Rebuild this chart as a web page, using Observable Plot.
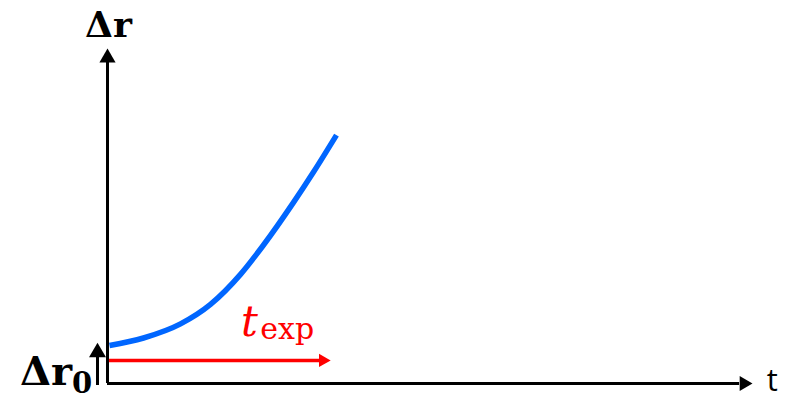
<!DOCTYPE html>
<html>
<head>
<meta charset="utf-8">
<script src="https://cdn.jsdelivr.net/npm/d3@7"></script>
<script src="https://cdn.jsdelivr.net/npm/@observablehq/plot@0.6"></script>
<style>
  html, body { margin: 0; padding: 0; background: #fff; }
</style>
</head>
<body>
<div id="chart"></div>
<script>
// Growth of the perturbation Δr over time t (arbitrary units)
const tCurve = [0.031, 0.558, 1.132, 1.597, 2.062, 2.419, 2.884, 3.194, 3.550];
const rCurve = [1.134, 1.358, 1.779, 2.361, 3.257, 4.134, 5.406, 6.313, 7.415];

// initial perturbation and the exponential-growth interval
const dr0 = 1.16;
const tExpStart = 0.03;
const tExpEnd = 3.46;
const tExpLevel = 0.69;

// axis extents
const tMax = 10;
const rMax = 10;

const curve = tCurve.map((t, i) => ({t, r: rCurve[i]}));

const BLUE = "#0066ff";
const RED = "#ff0000";
const serif = "'DejaVu Serif', 'Liberation Serif', serif";

// filled triangular arrow head; the dot sits at the tip, shifted back to its centroid
function head(x, y, dir, r, fill) {
  const back = 2 * Math.sqrt((Math.PI * r * r) / (3 * Math.sqrt(3)));
  return Plot.dot([{x, y}], {
    x: "x", y: "y", symbol: "triangle", r, fill, stroke: null,
    rotate: dir === "right" ? 90 : 0,
    dx: dir === "right" ? -back : 0,
    dy: dir === "up" ? back : 0
  });
}

const chart = Plot.plot({
  width: 788,
  height: 398,
  margin: 0,
  x: {domain: [0, tMax], range: [107, 752], axis: null},
  y: {domain: [0, rMax], range: [383, 48], axis: null},
  style: {background: "#fff", overflow: "visible"},
  marks: [
    // axes
    Plot.ruleY([0], {x1: 0, x2: tMax - 0.2, stroke: "#000", strokeWidth: 3}),
    Plot.ruleX([0], {y1: 0, y2: rMax - 0.4, stroke: "#000", strokeWidth: 3}),
    head(tMax, 0, "right", 5.5, "#000"),
    head(0, rMax, "up", 6, "#000"),

    // Δr0 marker arrow
    Plot.ruleX([-0.155], {y1: -0.06, y2: dr0 - 0.3, stroke: "#000", strokeWidth: 3}),
    head(-0.155, dr0 + 0.06, "up", 6.3, "#000"),

    // exponential-growth interval
    Plot.ruleY([tExpLevel], {x1: tExpStart, x2: tExpEnd - 0.15, stroke: RED, strokeWidth: 3.5}),
    head(tExpEnd, tExpLevel, "right", 5, RED),

    // Δr(t)
    Plot.line(curve, {x: "t", y: "r", curve: "monotone-x", stroke: BLUE, strokeWidth: 5.5, strokeLinecap: "butt"}),

    // labels
    Plot.text(["Δr"], {x: 0.015, y: 10.33, text: d => d, textAnchor: "middle", lineAnchor: "bottom",
      fontFamily: serif, fontWeight: "bold", fontSize: 36, fill: "#000"}),
    Plot.text(["Δr"], {x: -0.55, y: -0.03, text: d => d, textAnchor: "end", lineAnchor: "bottom",
      fontFamily: serif, fontWeight: "bold", fontSize: 40, fill: "#000"}),
    Plot.text(["0"], {x: -0.55, y: -0.27, text: d => d, textAnchor: "start", lineAnchor: "bottom",
      fontFamily: serif, fontWeight: "bold", fontSize: 29, fill: "#000"}),
    Plot.text(["t"], {x: 2.07, y: 1.43, text: d => d, textAnchor: "start", lineAnchor: "bottom",
      fontFamily: serif, fontStyle: "italic", fontSize: 42, fill: RED}),
    Plot.text(["exp"], {x: 2.37, y: 1.34, text: d => d, textAnchor: "start", lineAnchor: "bottom",
      fontFamily: serif, fontSize: 30, fill: RED}),
    Plot.text(["t"], {x: 10.22, y: -0.21, text: d => d, textAnchor: "start", lineAnchor: "bottom",
      fontFamily: "'Open Sans', 'Liberation Sans', sans-serif", fontSize: 31, fill: "#000"})
  ]
});

document.getElementById("chart").appendChild(chart);
</script>
</body>
</html>
